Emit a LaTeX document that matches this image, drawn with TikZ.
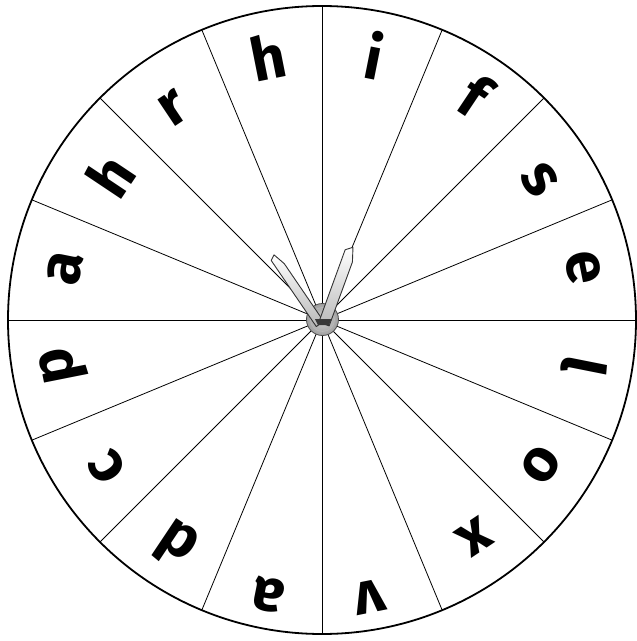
\documentclass[tikz,border=0pt]{standalone}
\usepackage{fontspec}
\setmainfont{Fira Sans}
\begin{document}
\begin{tikzpicture}[x=1pt,y=1pt,
  letter/.style={font=\fontsize{60}{60}\selectfont\bfseries, inner sep=0pt, text=black},
  sector/.style={line width=0.8pt, black},
  rim/.style={line width=1.8pt, black},
  hand/.style={draw=black!80, line width=0.9pt, left color=white, right color=gray!55, line join=round}]
\useasboundingbox (-322,-321) rectangle (315,320);
\fill[white] (-322,-321) rectangle (315,320);
\coordinate (O) at (0,0);
\foreach \i in {0,...,7} {
  \draw[sector] ({\i*22.5}:314) -- ({\i*22.5+180}:314);
}
\draw[rim] (O) circle (314);
% letters
\node[letter, rotate=11.25]   (L1)  at (-54,263)  {h};
\node[letter, rotate=-11.25]  (L2)  at (53,265)   {i};
\node[letter, rotate=-33.75]  (L3)  at (153,225)  {f};
\node[letter, rotate=-56.25]  (L4)  at (218,140)  {s};
\node[letter, rotate=-78.75]  (L5)  at (261,52)   {e};
\node[letter, rotate=-101.25] (L6)  at (263,-47)  {l};
\node[letter, rotate=-123.75] (L7)  at (219,-145) {o};
\node[letter, rotate=-146.25] (L8)  at (153,-217) {x};
\node[letter, rotate=-168.75] (L9)  at (48,-277)  {v};
\node[letter, rotate=168.75]  (L10) at (-54,-275) {a};
\node[letter, rotate=146.25]  (L11) at (-146,-225){d};
\node[letter, rotate=123.75]  (L12) at (-215,-147){c};
\node[letter, rotate=101.25]  (L13) at (-259,-45) {p};
\node[letter, rotate=78.75]   (L14) at (-257,52)  {a};
\node[letter, rotate=56.25]   (L15) at (-212,145) {h};
\node[letter, rotate=33.75]   (L16) at (-149,212) {r};
% hub
\shade[inner color=gray!35, outer color=gray!75, draw=black!70, line width=0.8pt] (0.5,0.5) circle (16);
\draw[gray!55, line width=0.6pt] (0.5,0.5) circle (12);
% hands
\begin{scope}[shift={(-2,-4)}, rotate=124.3]
  \shade[hand, shading angle=0] (0,-4.5) -- (70,-4.5) -- (83,-1) -- (80,4.5) -- (0,4.5) -- cycle;
\end{scope}
\begin{scope}[shift={(2,-4)}, rotate=70]
  \shade[hand, shading angle=0] (0,-5.5) -- (68,-5.5) -- (82,-1) -- (77,5.5) -- (0,5.5) -- cycle;
\end{scope}
\fill[gray!45!black] (-7,1) -- (10,1) -- (7,-5) -- (-4,-5) -- cycle;
\end{tikzpicture}
\end{document}
